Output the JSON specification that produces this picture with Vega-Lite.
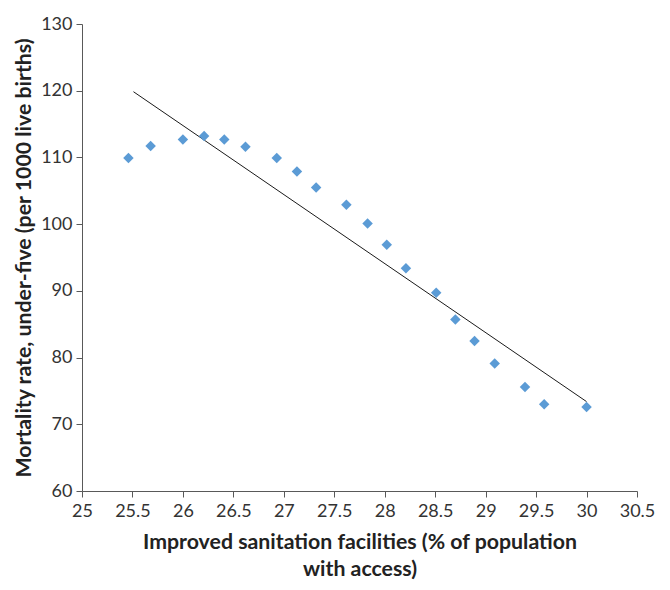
{
  "$schema": "https://vega.github.io/schema/vega-lite/v6.json",
  "width": 555,
  "height": 467,
  "autosize": "none",
  "padding": {"left": 82, "top": 24, "right": 33, "bottom": 99},
  "background": "white",
  "config": {
    "view": {"stroke": null},
    "font": "Lato",
    "axis": {
      "grid": false,
      "domainColor": "#595959",
      "tickColor": "#595959",
      "labelColor": "#333333",
      "labelFont": "Lato",
      "labelFontSize": 18,
      "titleFont": "Lato",
      "titleFontSize": 21.3,
      "titleFontWeight": "bold",
      "titleColor": "#222222",
      "tickSize": 6
    }
  },
  "datasets": {
    "points": [
      {"sanitation": 25.46, "mortality": 109.9},
      {"sanitation": 25.68, "mortality": 111.7},
      {"sanitation": 26.0, "mortality": 112.7},
      {"sanitation": 26.21, "mortality": 113.2},
      {"sanitation": 26.41, "mortality": 112.7},
      {"sanitation": 26.62, "mortality": 111.6},
      {"sanitation": 26.93, "mortality": 109.9},
      {"sanitation": 27.13, "mortality": 107.9},
      {"sanitation": 27.32, "mortality": 105.5},
      {"sanitation": 27.62, "mortality": 102.9},
      {"sanitation": 27.83, "mortality": 100.1},
      {"sanitation": 28.02, "mortality": 96.9},
      {"sanitation": 28.21, "mortality": 93.4},
      {"sanitation": 28.51, "mortality": 89.7},
      {"sanitation": 28.7, "mortality": 85.7},
      {"sanitation": 28.89, "mortality": 82.5},
      {"sanitation": 29.09, "mortality": 79.1},
      {"sanitation": 29.39, "mortality": 75.6},
      {"sanitation": 29.58, "mortality": 73.0},
      {"sanitation": 30.0, "mortality": 72.6}
    ],
    "trend": [
      {"sanitation": 25.51, "mortality": 119.85},
      {"sanitation": 30.0, "mortality": 73.4}
    ]
  },
  "layer": [
    {
      "data": {"name": "trend"},
      "mark": {"type": "line", "color": "#1a1a1a", "strokeWidth": 1},
      "encoding": {
        "x": {"field": "sanitation", "type": "quantitative"},
        "y": {"field": "mortality", "type": "quantitative"}
      }
    },
    {
      "data": {"name": "points"},
      "mark": {"type": "point", "shape": "diamond", "filled": true, "color": "#5B9BD5", "opacity": 1, "size": 110},
      "encoding": {
        "x": {
          "field": "sanitation",
          "type": "quantitative",
          "scale": {"domain": [25, 30.5], "nice": false, "zero": false},
          "axis": {
            "values": [25, 25.5, 26, 26.5, 27, 27.5, 28, 28.5, 29, 29.5, 30, 30.5],
            "format": "~g",
            "title": ["Improved sanitation facilities (% of population", "with access)"],
            "titlePadding": 11,
            "titleLineHeight": 27,
            "labelPadding": 5,
            "labelFlush": false
          }
        },
        "y": {
          "field": "mortality",
          "type": "quantitative",
          "scale": {"domain": [60, 130], "nice": false, "zero": false},
          "axis": {
            "values": [60, 70, 80, 90, 100, 110, 120, 130],
            "format": "~g",
            "title": "Mortality rate, under-five (per 1000 live births)",
            "titlePadding": 6,
            "labelPadding": 4,
            "labelFlush": false
          }
        }
      }
    }
  ]
}
